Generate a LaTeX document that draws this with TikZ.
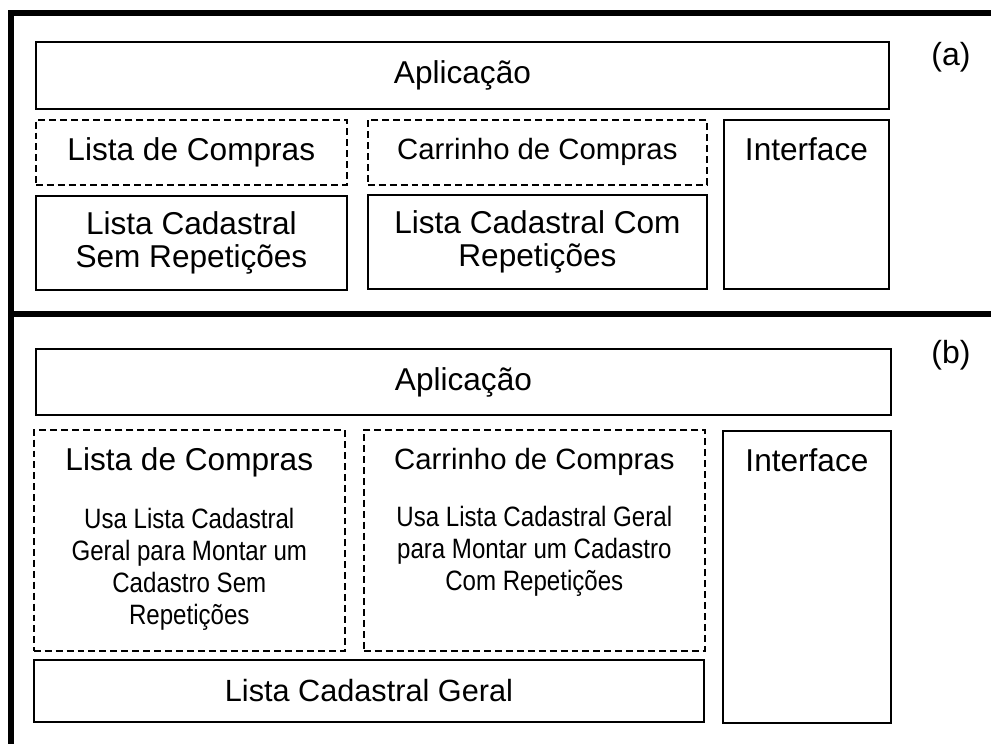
\documentclass[tikz,border=0pt]{standalone}
\usepackage{fontspec}
\setmainfont{Liberation Sans}
\newfontfamily\condfont[FakeStretch=0.86]{Liberation Sans}
\usetikzlibrary{positioning}

\tikzset{
  blk/.style={draw, line width=1.4pt, inner sep=0pt, anchor=north west, align=center,
    font=\fontsize{23.7}{25}\selectfont},
  dblk/.style={blk, line width=1.2pt, dash pattern=on 5.2pt off 3pt},
  sz/.style 2 args={minimum width=#1*0.75pt, minimum height=#2*0.75pt},
  ttl/.style={inner sep=0pt, font=\fontsize{23.7}{25}\selectfont},
  desc/.style={inner sep=0pt, align=center, font=\condfont\fontsize{21}{23.8}\selectfont},
  tag/.style={anchor=base, inner sep=0pt, font=\fontsize{24}{28}\selectfont},
}

\begin{document}
\begin{tikzpicture}[x=0.75pt, y=-0.75pt]
\useasboundingbox (0,0) rectangle (991,744);
% moldura
\draw[line width=4.5pt] (991,13) -- (11,13) -- (11,744);
\draw[line width=4.5pt] (11,314) -- (991,314);

% (a)
\node[tag] (ta) at (951,65) {(a)};
\node[blk, sz={853}{67}] (apA) at (35,41) {Aplicação};
\node[dblk, sz={311}{65}] (lcA) at (35,119) {Lista de Compras};
\node[dblk, sz={339}{65}, font=\fontsize{22}{24}\selectfont] (ccA) at (367,119) {Carrinho de Compras};
\node[blk, sz={311}{94}] (lsA) at (35,195) {Lista Cadastral\\Sem Repetições};
\node[blk, sz={339}{94}] (lrA) at (367,194) {Lista Cadastral Com\\Repetições};
\node[blk, sz={165}{169}] (ifA) at (723,119) {};
\node[ttl, below=13.5pt of ifA.north] (ifAt) {Interface};

% (b)
\node[tag] (tb) at (951,363) {(b)};
\node[blk, sz={855}{66}] (apB) at (35,348) {Aplicação};
\node[dblk, sz={311}{221}] (lcB) at (33,429) {};
\node[ttl, below=14pt of lcB.north] (lcBt) {Lista de Compras};
\node[desc, below=23pt of lcBt] (lcBd) {Usa Lista Cadastral\\Geral para Montar um\\Cadastro Sem\\Repetições};
\node[dblk, sz={341}{221}] (ccB) at (363,429) {};
\node[ttl, below=14pt of ccB.north, font=\fontsize{22}{24}\selectfont] (ccBt) {Carrinho de Compras};
\node[desc, below=23pt of ccBt] (ccBd) {Usa Lista Cadastral Geral\\para Montar um Cadastro\\Com Repetições};
\node[blk, sz={670}{62}, font=\fontsize{23}{25}\selectfont] (lgB) at (33,659) {Lista Cadastral Geral};
\node[blk, sz={168}{292}] (ifB) at (722,430) {};
\node[ttl, below=13.5pt of ifB.north] (ifBt) {Interface};
\end{tikzpicture}
\end{document}
